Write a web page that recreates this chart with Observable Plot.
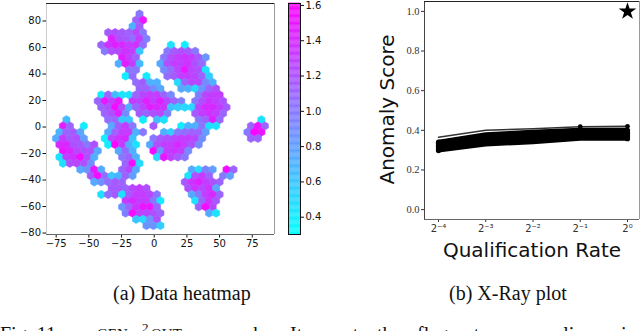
<!DOCTYPE html>
<html><head><meta charset="utf-8">
<script src="https://cdn.jsdelivr.net/npm/d3@7"></script>
<script src="https://cdn.jsdelivr.net/npm/@observablehq/plot@0.6"></script>
<style>
html,body{margin:0;padding:0;background:#fff;overflow:hidden}
#page{position:relative;width:640px;height:331px;overflow:hidden}
#page>svg,#page>div.c{position:absolute}
.c{font-family:"Liberation Serif",serif;color:#111;white-space:pre;line-height:1.15}
</style></head><body><div id="page"></div>
<script>
// Hexbin grid: one row per entry; a start column and the cell values (0 = empty cell)
const hexStart = [0,-1,-2,-9,-8,-11,-10,-5,-6,-3,-4,-1,0,-11,-12,-11,-10,-21,-22,-23,-24,-23,-22,-23,-22,-17,-14,-13,-8,-11,-4,-5,-4,-1,2];
const hexValues = [
[1.0],
[1.1,1.5],
[.7,1.15],
[1.15,1.2,1.15,1.1,1.25,1.0],
[1.45,1.2,1.15,1.05,1.3,.95],
[1.1,1.35,1.45,1.4,1.3,1.35,1.05,0,0,0,.45,0,.4],
[1.0,1.2,1.25,1.35,1.3,.6,0,0,0,1.0,1.15,1.2,1.15,1.0],
[1.45,1.3,1.1,0,0,0,1.0,1.2,1.3,1.35,1.3,1.15,.85],
[.7,1.45,1.3,.65,0,0,.75,1.2,1.3,1.3,1.35,1.2,1.05],
[1.0,1.0,0,0,0,.9,1.05,1.25,1.5,1.25,1.2,.45],
[.4,1.05,0,.4,0,0,1.05,1.15,1.3,1.3,1.25,1.1,.55],
[1.05,1.15,.7,.7,0,0,.5,1.1,1.25,1.25,.9,.7],
[1.1,1.1,.9,.75,0,0,.75,.7,.5,.85,1.1,1.2],
[.4,1.1,.65,.45,.45,1.1,1.25,1.3,1.3,1.1,.9,0,0,0,.95,1.25,1.3,1.3],
[1.1,1.5,1.3,1.5,0,1.3,1.25,1.45,1.3,1.45,1.25,1.1,.95,0,1.0,1.2,1.35,1.3,1.2],
[1.1,1.2,1.55,1.2,.7,1.1,1.25,1.45,1.4,1.35,.6,.55,.5,.5,1.25,1.4,1.4,1.3,1.15],
[1.1,1.2,1.45,.9,0,1.15,1.1,1.2,1.25,.95,0,0,0,1.15,1.3,1.35,1.3,1.1],
[.65,0,0,0,0,0,1.05,1.1,.6,.6,0,.4,0,.65,.45,0,0,0,0,1.0,1.1,1.45,1.1,0,0,0,0,0,.45],
[1.45,1.1,0,.4,0,0,0,.75,1.15,1.3,1.0,0,0,1.15,0,0,0,.4,.7,.7,1.0,.45,.45,0,0,0,0,1.1,1.5,1.1],
[.7,1.1,1.15,.75,0,0,0,.75,1.1,1.3,1.3,.7,1.0,0,0,.7,.55,1.0,1.05,1.1,1.1,.8,0,0,0,0,0,1.0,1.6,1.5],
[.75,1.3,1.15,1.2,.8,0,0,.4,1.25,1.35,1.4,.6,0,0,1.0,1.15,1.2,1.25,1.3,1.3,1.25,.9,0,0,0,0,0,0,1.1,1.1],
[1.4,1.4,1.2,1.15,1.0,1.2,0,.4,1.6,1.3,.7,.45,0,.75,1.2,1.3,1.3,1.4,1.3,1.2,.9],
[1.5,1.4,1.25,1.2,1.2,.75,0,0,.75,1.05,.7,0,0,1.55,.85,1.3,1.35,1.3,.9],
[.45,1.3,1.35,1.55,1.2,.7,0,0,0,1.0,1.1,.7,0,0,.5,1.5,1.3,1.15,1.0],
[.45,1.2,1.25,1.2,.9,0,0,0,0,1.1,1.55,.5],
[.75,.85,1.5,.75,0,0,1.1,1.25,.75,0,0,0,0,0,0,0,.75,.5,.95,.8,0,1.55,1.1],
[1.15,1.55,1.05,.6,.7,1.1,.8,0,0,0,0,0,0,0,.45,1.2,1.3,1.1,0,1.0,.8],
[.75,.85,1.05,1.15,1.1,0,0,0,0,0,0,0,0,1.15,1.35,1.45,1.3,1.2,1.1],
[1.15,1.15,1.1,1.25,1.3,1.2,0,0,0,0,0,1.2,1.35,1.25,1.35,.75],
[.45,1.05,1.15,.45,1.15,1.3,1.3,1.25,1.0,0,0,0,0,.75,1.0,1.3,1.4,1.1],
[1.3,1.4,1.3,1.3,1.0,.4,0,0,0,0,.45,1.1,1.35,1.15],
[.85,1.1,1.35,1.5,1.5,1.1,0,0,0,0,0,1.1,1.55,1.25],
[.95,1.55,1.3,1.25,1.2,1.1,0,0,0,0,0,0,.75,.45],
[.6,.5,.85,1.2],
[.85,.85,.55]
];
// X-Ray plot
const rates = [1/16,1/8,1/4,1/2,1];
const rateLabels = ["2⁻⁴","2⁻³","2⁻²","2⁻¹","2⁰"];
const xrayTop = [.365,.400,.408,.418,.420];
const xray1 = [.348,.385,.398,.408,.408];
const xray2 = [.340,.375,.390,.400,.400];
const xray3 = [.332,.365,.380,.392,.392];
const xray4 = [.324,.356,.370,.384,.384];
const xray5 = [.316,.347,.360,.376,.376];
const xray6 = [.306,.338,.350,.368,.368];
const xray7 = [.298,.328,.340,.358,.358];
const outlierScore = 1.0;
const cbTicks = [.4,.6,.8,1.0,1.2,1.4,1.6];
const captionA = "(a) Data heatmap", captionB = "(b) X-Ray plot";
const figWords = ["Fig. 11.","works:","It","spots","the","flagrant","anomalies","in"];

const hexes = [];
hexValues.forEach((vals, r) => vals.forEach((v, i) => {
  if (v > 0) hexes.push({x: -11.25 + 2.663 * (hexStart[r] + 2 * i), y: 85.4 - 4.70 * r, v});
}));
const colorScale = {type: "linear", domain: [0.302, 1.611], range: ["#00ffff", "#ff00ff"], interpolate: "rgb"};
const page = document.getElementById("page");
function place(el, left, top) { el.style.left = left + "px"; el.style.top = top + "px"; page.appendChild(el); }
const sans = "DejaVu Sans";

place(Plot.plot({
  width: 282, height: 256, marginLeft: 46, marginRight: 8, marginTop: 3, marginBottom: 22,
  style: {fontFamily: sans, fontSize: "10px", color: "#111", background: "transparent"},
  x: {domain: [-82.4, 92], ticks: [-75,-50,-25,0,25,50,75], label: null, tickSize: 3.5, tickPadding: 2},
  y: {domain: [-81.1, 93.2], ticks: [-80,-60,-40,-20,0,20,40,60,80], label: null, tickSize: 3.5, tickPadding: 2},
  color: colorScale,
  marks: [
    Plot.hexagon(hexes, {x: "x", y: "y", fill: "v", r: 3.6, stroke: "v", strokeWidth: 0.5}),
    Plot.ruleX([-82.4], {stroke: "#ccc"}),
    Plot.ruleX([92], {stroke: "#999"}),
    Plot.ruleY([93.2], {stroke: "#222", strokeWidth: 1.2}),
    Plot.ruleY([-81.1], {stroke: "#666"})
  ]
}), 0, 0);

const cbLevels = d3.range(0.302, 1.611, 0.005);
place(Plot.plot({
  width: 50, height: 240, marginLeft: 8, marginRight: 30, marginTop: 3, marginBottom: 6,
  style: {fontFamily: sans, fontSize: "10px", color: "#111", background: "transparent"},
  x: {axis: null, domain: [0, 1]},
  y: {domain: [0.302, 1.611], axis: "right", ticks: cbTicks, tickFormat: d3.format(".1f"), label: null, tickSize: 3, tickPadding: 2},
  color: colorScale,
  marks: [
    Plot.rect(cbLevels, {x1: 0, x2: 1, y1: d => d, y2: d => d + 0.006, fill: d => d}),
    Plot.frame({stroke: "#111"})
  ]
}), 280, 0);

const xraySeries = [xrayTop, xray1, xray2, xray3, xray4, xray5, xray6, xray7];
const xrayRows = xraySeries.flatMap((s, k) => s.map((score, i) => ({rate: rates[i], score, k})));
const xMin = Math.pow(2, -4.296), xMax = Math.pow(2, 0.254);
place(Plot.plot({
  width: 270, height: 262, marginLeft: 54, marginRight: 1, marginTop: 1, marginBottom: 43,
  style: {fontFamily: "Liberation Serif", fontSize: "10.5px", color: "#333", background: "transparent"},
  x: {type: "log", base: 2, domain: [xMin, xMax], axis: null},
  y: {domain: [-0.05, 1.05], ticks: [0,.2,.4,.6,.8,1], tickFormat: d3.format(".1f"), label: null, tickSize: 3, tickPadding: 2},
  marks: [
    Plot.axisX({ticks: rates, tickFormat: d => rateLabels[rates.indexOf(d)], label: null, tickSize: 3, tickPadding: 2, fontFamily: sans, fontSize: 10}),
    Plot.line(xrayRows.filter(d => d.k === 0), {x: "rate", y: "score", stroke: "#333", strokeWidth: 1.6}),
    Plot.line(xrayRows.filter(d => d.k > 1), {x: "rate", y: "score", z: "k", stroke: "#000", strokeWidth: 4}),
    Plot.line(xrayRows.filter(d => d.k === 1), {x: "rate", y: "score", stroke: "#000", strokeWidth: 2}),
    Plot.dot(xrayRows.filter(d => d.k > 1 && (d.rate === 1/16 || d.rate === 1)), {x: "rate", y: "score", fill: "#000", r: 2.6}),
    Plot.dot(xrayRows.filter(d => d.k === 0 && d.rate >= 1/2), {x: "rate", y: "score", fill: "#000", r: 2.4}),
    Plot.dot([{rate: 1, score: outlierScore}], {x: "rate", y: "score", symbol: "star", fill: "#000", r: 5.5}),
    Plot.ruleX([xMin], {stroke: "#444"}),
    Plot.ruleX([xMax], {stroke: "#999"}),
    Plot.ruleY([1.05], {stroke: "#222", strokeWidth: 1.2}),
    Plot.ruleY([-0.05], {stroke: "#666"}),
    Plot.text(["Anomaly Score"], {frameAnchor: "left", textAnchor: "middle", dx: -37, dy: -1, rotate: -90, fontFamily: sans, fontSize: 20, fill: "#111"}),
    Plot.text(["Qualification Rate"], {frameAnchor: "bottom", dy: 37, fontFamily: sans, fontSize: 20, fill: "#111"})
  ]
}), 370, 0);

function caption(text, left, top, size) {
  const d = document.createElement("div");
  d.className = "c"; d.textContent = text; d.style.fontSize = size + "px";
  place(d, left, top);
}
caption(captionA, 113, 282, 20);
caption(captionB, 449, 282, 20);
// bottom line: the figure note, cut by the page edge
caption(figWords[0], 0, 323, 20);
caption("GEN", 97, 326, 15);
caption("2", 142, 321, 13);
caption("OUT", 151, 326, 15);
caption(figWords[1], 222, 323, 20);
caption(figWords[2], 290, 323, 20);
caption(figWords[3], 325, 323, 20);
caption(figWords[4], 377, 323, 20);
caption(figWords[5], 417, 323, 20);
caption(figWords[6], 510, 323, 20);
caption(figWords[7], 621, 323, 20);
</script></body></html>
